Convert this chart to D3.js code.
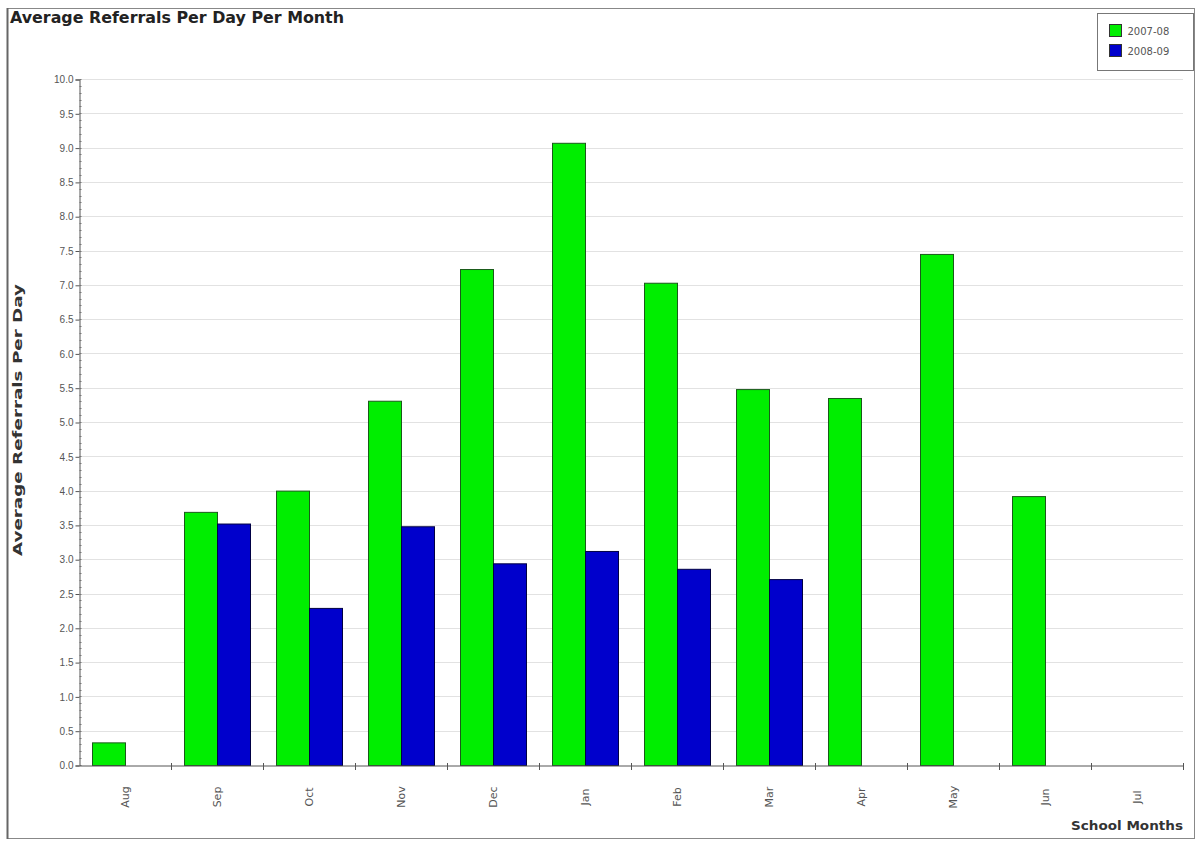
<!DOCTYPE html>
<html>
<head>
<meta charset="utf-8">
<script src="https://cdn.jsdelivr.net/npm/d3@7"></script>
<style>
  html, body { margin: 0; padding: 0; background: #fff; }
  svg { display: block; font-family: "DejaVu Sans", "Liberation Sans", sans-serif; }
</style>
</head>
<body>
<svg id="chart" width="1201" height="841"></svg>
<script>
const months = ["Aug","Sep","Oct","Nov","Dec","Jan","Feb","Mar","Apr","May","Jun","Jul"];
const seriesNames = ["2007-08","2008-09"];
const values0708 = [0.33, 3.69, 4.00, 5.31, 7.23, 9.07, 7.03, 5.48, 5.35, 7.45, 3.92, null];
const values0809 = [null, 3.52, 2.29, 3.48, 2.94, 3.12, 2.86, 2.71, null, null, null, null];
const colors = ["#00ee00", "#0000cc"];
const yTicks = d3.range(0, 10.01, 0.5);

const svg = d3.select("#chart");
const pL = 79, pR = 1183, pT = 79, pB = 765;

// chart border
svg.append("rect").attr("x", 7.5).attr("y", 8.5).attr("width", 1187).attr("height", 830)
  .attr("fill", "#fff").attr("stroke", "#888").attr("stroke-width", 1);
svg.append("line").attr("x1", 7.5).attr("x2", 7.5).attr("y1", 8).attr("y2", 839)
  .attr("stroke", "#666").attr("stroke-width", 2);

const x = d3.scaleBand().domain(months).range([pL, pR]).paddingInner(0).paddingOuter(0);
const y = d3.scaleLinear().domain([0, 10]).range([pB, pT]);

// gridlines
svg.append("g").selectAll("line").data(yTicks.filter(d => d > 0)).join("line")
  .attr("x1", pL).attr("x2", pR)
  .attr("y1", d => Math.round(y(d)) + 0.5).attr("y2", d => Math.round(y(d)) + 0.5)
  .attr("stroke", "#e2e2e2").attr("stroke-width", 1);

// bars
const barW = 33;
const data = months.map((m, i) => ({m, vals: [values0708[i], values0809[i]]}));
const g = svg.append("g");
data.forEach(d => {
  const cx = x(d.m) + x.bandwidth() / 2;
  d.vals.forEach((v, s) => {
    if (v == null) return;
    g.append("rect")
      .attr("x", cx - barW + s * barW + 0.5)
      .attr("y", y(v) + 0.5)
      .attr("width", barW)
      .attr("height", y(0) - y(v))
      .attr("fill", colors[s])
      .attr("stroke", s === 0 ? "#1a5a1a" : "#000044")
      .attr("stroke-width", 1);
  });
});

// y axis
const yAxis = d3.axisLeft(y).tickValues(yTicks).tickFormat(d3.format(".1f")).tickSize(4).tickPadding(2);
const ya = svg.append("g").attr("transform", `translate(${pL + 0.5},0.5)`).call(yAxis);
ya.select(".domain").attr("stroke", "#555");
ya.selectAll(".tick line").attr("stroke", "#555");
ya.selectAll(".tick text").attr("font-size", 10).attr("fill", "#555");
// minor ticks
svg.append("g").selectAll("line").data(d3.range(0, 10.001, 0.1)).join("line")
  .attr("x1", pL + 0.5).attr("x2", pL + 2.5)
  .attr("y1", d => Math.round(y(d)) + 0.5).attr("y2", d => Math.round(y(d)) + 0.5)
  .attr("stroke", "#777");

// x axis
const xAxis = d3.axisBottom(x).tickSize(0).tickFormat(() => "");
const xa = svg.append("g").attr("transform", `translate(0.5,${pB + 0.5})`).call(xAxis);
xa.select(".domain").attr("stroke", "#555");
// boundary ticks between categories
svg.append("g").selectAll("line").data(months).join("line")
  .attr("x1", d => x(d) + x.bandwidth() + 0.5)
  .attr("x2", d => x(d) + x.bandwidth() + 0.5)
  .attr("y1", pB - 2).attr("y2", pB + 5)
  .attr("stroke", "#555");
// rotated labels
svg.append("g").selectAll("text").data(months).join("text")
  .attr("transform", d => `translate(${x(d) + x.bandwidth() / 2 + 4},797) rotate(-90)`)
  .attr("text-anchor", "middle")
  .attr("font-size", 11)
  .attr("fill", "#555")
  .text(d => d);

// title
svg.append("text").attr("x", 10).attr("y", 23).attr("font-size", 15.5).attr("font-weight", "bold")
  .attr("fill", "#222").attr("textLength", 334).attr("lengthAdjust", "spacingAndGlyphs")
  .text("Average Referrals Per Day Per Month");

// axis titles
svg.append("text").attr("transform", `translate(22,420) rotate(-90)`)
  .attr("text-anchor", "middle").attr("font-size", 12).attr("font-weight", "bold").attr("fill", "#333")
  .attr("textLength", 272).attr("lengthAdjust", "spacingAndGlyphs")
  .text("Average Referrals Per Day");
svg.append("text").attr("x", pR).attr("y", 830).attr("text-anchor", "end")
  .attr("font-size", 12.5).attr("font-weight", "bold").attr("fill", "#333")
  .attr("textLength", 112).attr("lengthAdjust", "spacingAndGlyphs").text("School Months");

// legend
const lg = svg.append("g").attr("transform", "translate(1097.5,13.5)");
lg.append("rect").attr("width", 96).attr("height", 57).attr("fill", "#fff").attr("stroke", "#777");
seriesNames.forEach((n, i) => {
  lg.append("rect").attr("x", 12).attr("y", 11 + i * 20).attr("width", 12).attr("height", 12)
    .attr("fill", colors[i]).attr("stroke", "#333");
  lg.append("text").attr("x", 30).attr("y", 21 + i * 20).attr("font-size", 10).attr("fill", "#555").text(n);
});
</script>
</body>
</html>
